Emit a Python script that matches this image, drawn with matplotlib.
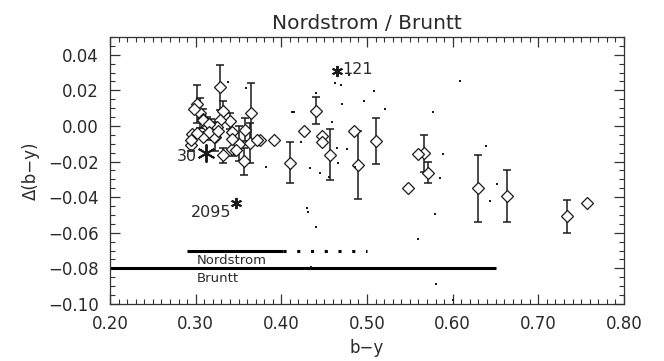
import matplotlib
matplotlib.use('Agg')
import matplotlib.pyplot as plt
from matplotlib.ticker import MultipleLocator

# Stars with error bars: b-y, delta(b-y), sigma
ERR_X = [0.441, 0.410, 0.457, 0.490, 0.511, 0.567, 0.571, 0.629, 0.663, 0.733,
         0.301, 0.305, 0.309, 0.295, 0.328, 0.332, 0.340, 0.342, 0.332, 0.350,
         0.356, 0.358, 0.363, 0.364, 0.322, 0.318, 0.313]
ERR_Y = [0.0085, -0.0206, -0.0161, -0.0219, -0.0084, -0.0154, -0.0262, -0.0351, -0.0396, -0.0508,
         0.0122, 0.0074, 0.0042, -0.0108, 0.0217, 0.0085, 0.0028, -0.0127, -0.0165, -0.0099,
         -0.0199, -0.0020, -0.0095, 0.0074, -0.0060, -0.0020, 0.0000]
ERR_S = [0.0076, 0.0115, 0.0145, 0.0190, 0.0130, 0.0105, 0.0060, 0.0189, 0.0146, 0.0093,
         0.0107, 0.0085, 0.0056, 0.0035, 0.0125, 0.0056, 0.0045, 0.0042, 0.0042, 0.0100,
         0.0075, 0.0065, 0.0113, 0.0170, 0.0080, 0.0060, 0.0050]

# Stars without error bars
DIA_X = [0.757, 0.548, 0.559, 0.426, 0.391, 0.375, 0.448, 0.448, 0.485, 0.372,
         0.298, 0.296, 0.309, 0.319, 0.321, 0.328, 0.342, 0.342, 0.347, 0.308,
         0.302, 0.294, 0.325, 0.316, 0.315, 0.326]
DIA_Y = [-0.0430, -0.0347, -0.0155, -0.0030, -0.0076, -0.0080, -0.0056, -0.0090, -0.0030, -0.0076,
         0.0094, -0.0043, -0.0061, -0.0014, -0.0061, 0.0032, -0.0034, -0.0071, -0.0137, 0.0036,
         -0.0040, -0.0076, -0.0005, 0.0010, -0.0035, -0.0030]

# Single measurements shown as points
DOT_X = [0.338, 0.359, 0.382, 0.412, 0.415, 0.440, 0.434, 0.445, 0.456, 0.463,
         0.470, 0.471, 0.459, 0.465, 0.477, 0.479, 0.423, 0.496, 0.508, 0.521,
         0.608, 0.577, 0.589, 0.585, 0.579, 0.560, 0.466, 0.430, 0.431, 0.441,
         0.435, 0.486, 0.639, 0.652, 0.644, 0.581, 0.600]
DOT_Y = [0.0245, 0.0211, -0.0230, 0.0079, 0.0079, 0.0188, -0.0238, -0.0264, -0.0287, 0.0243,
         0.0230, 0.0126, 0.0023, -0.0121, -0.0129, 0.0286, -0.0092, 0.0141, 0.0196, 0.0096,
         0.0250, 0.0081, -0.0155, -0.0294, -0.0492, -0.0634, -0.0206, -0.0462, -0.0484, -0.0567,
         -0.0790, -0.0230, -0.0114, -0.0328, -0.0424, -0.0888, -0.0976]

# Named outliers
STAR_NAMES = ['121', '30', '2095']
STAR_X = [0.465, 0.312, 0.347]
STAR_Y = [0.0308, -0.0150, -0.0433]

# Colour ranges of the two samples
NORD_SOLID = [0.290, 0.402]
NORD_DOTTED = [0.402, 0.500]
NORD_LEVEL = -0.070
BRUNTT_RANGE = [0.195, 0.650]
BRUNTT_LEVEL = -0.080

INK = '#1a1a1a'
TXT = '#2a2a2a'
plt.rcParams['font.family'] = ['DejaVu Sans']

fig = plt.figure(figsize=(6.64, 3.61), dpi=100)
ax = fig.add_axes([0.1657, 0.158, 0.7741, 0.7395])

ax.errorbar(ERR_X, ERR_Y, yerr=ERR_S, fmt='none', ecolor=INK, elinewidth=1.1,
            capsize=3, capthick=1.1, zorder=2)
ax.plot(ERR_X + DIA_X, ERR_Y + DIA_Y, linestyle='none', marker='D', markersize=6,
        markerfacecolor='white', markeredgecolor=INK, markeredgewidth=0.9, zorder=3)
ax.plot(DOT_X, DOT_Y, linestyle='none', marker='s', markersize=1.7,
        color=INK, markeredgewidth=0, zorder=3)

sizes = [8, 13, 8]
for name, x, y, s in zip(STAR_NAMES, STAR_X, STAR_Y, sizes):
    ax.plot(x, y, linestyle='none', marker=(6, 2, 0), markersize=s,
            color=INK, markeredgewidth=1.4, zorder=4)
ax.text(STAR_X[0] + 0.006, STAR_Y[0] + 0.0012, STAR_NAMES[0], fontsize=11.5,
        color=TXT, ha='left', va='center')
ax.text(STAR_X[1] - 0.011, STAR_Y[1] - 0.0022, STAR_NAMES[1], fontsize=11.5,
        color=TXT, ha='right', va='center')
ax.text(STAR_X[2] - 0.005, STAR_Y[2] - 0.0055, STAR_NAMES[2], fontsize=11.5,
        color=TXT, ha='right', va='center')

ax.plot(NORD_SOLID, [NORD_LEVEL] * 2, color='black', linewidth=2.2, solid_capstyle='butt')
ax.plot(NORD_DOTTED, [NORD_LEVEL] * 2, color='black', linewidth=2.2,
        linestyle=(0, (1, 3.5)))
ax.plot(BRUNTT_RANGE, [BRUNTT_LEVEL] * 2, color='black', linewidth=2.2, solid_capstyle='butt')
ax.text(0.301, -0.0753, 'Nordstrom', fontsize=9.5, color=TXT, va='center')
ax.text(0.301, -0.0855, 'Bruntt', fontsize=9.5, color=TXT, va='center')

ax.set_xlim(0.2, 0.8)
ax.set_ylim(-0.10, 0.05)
ax.xaxis.set_major_locator(MultipleLocator(0.1))
ax.xaxis.set_minor_locator(MultipleLocator(0.01))
ax.yaxis.set_major_locator(MultipleLocator(0.02))
ax.yaxis.set_minor_locator(MultipleLocator(0.005))
ax.set_yticks([-0.10, -0.08, -0.06, -0.04, -0.02, 0.0, 0.02, 0.04])
ax.xaxis.set_major_formatter(plt.FuncFormatter(lambda v, p: f'{v:.2f}'))
ax.yaxis.set_major_formatter(plt.FuncFormatter(lambda v, p: f'{v:.2f}'.replace('-', '\u2212')))
ax.tick_params(which='both', direction='in', top=True, right=True, colors='#333',
               labelcolor=TXT, labelsize=12)
ax.tick_params(which='major', length=7, width=0.9, pad=8)
ax.tick_params(which='minor', length=3.5, width=0.8)
for sp in ax.spines.values():
    sp.set_color('#333')
    sp.set_linewidth(0.9)

ax.set_xlabel('b\u2212y', fontsize=12, color=TXT, labelpad=4)
ax.set_ylabel('\u0394(b\u2212y)', fontsize=12, color=TXT, labelpad=6)
ax.set_title('Nordstrom / Bruntt', fontsize=14.5, color=TXT, pad=6)

fig.savefig('out.png', dpi=100)
